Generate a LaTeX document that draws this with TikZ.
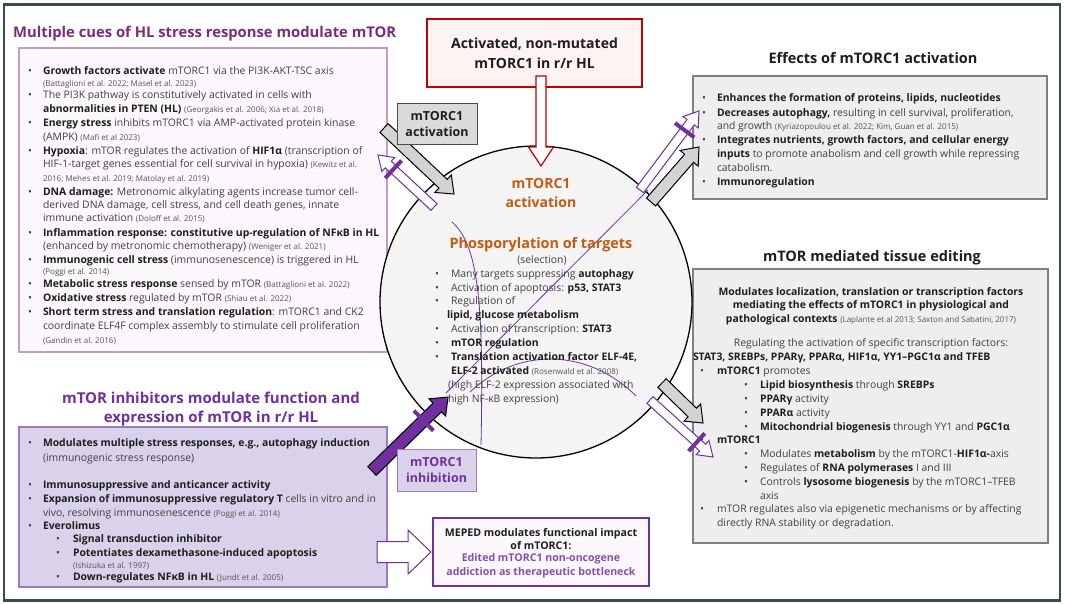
\documentclass[tikz,border=0pt]{standalone}
\usepackage{fontspec}
\setmainfont{Open Sans}
\usetikzlibrary{calc}
\definecolor{framec}{HTML}{3B4A52}
\definecolor{bodyc}{HTML}{404040}
\definecolor{boldc}{HTML}{1E1E1E}
\definecolor{citec}{HTML}{555555}
\definecolor{titlec}{HTML}{7B2C7F}
\definecolor{purp}{HTML}{7030A0}
\definecolor{pinkfill}{HTML}{FCF7FC}
\definecolor{pinkline}{HTML}{C39BC5}
\definecolor{lavfill}{HTML}{DAD1EA}
\definecolor{lavline}{HTML}{9A7DBE}
\definecolor{redc}{HTML}{C00000}
\definecolor{redfill}{HTML}{FDF3F3}
\definecolor{orangec}{HTML}{C55A11}
\definecolor{grayfill}{HTML}{EEEEEE}
\definecolor{grayline}{HTML}{7F7F7F}
\definecolor{circfill}{HTML}{F4F4F4}
\definecolor{arrowgray}{HTML}{D3D3D3}
\newcommand{\bo}[1]{{\bfseries\color{boldc}#1}}
\newcommand{\ct}[1]{{\fontsize{8}{9}\selectfont\color{citec}#1}}
\newcommand{\li}[4]{\node[txt] (#1) at (#2,#3+3.7) {#4};}
\newcommand{\bu}[3]{\node[bul] (#1) at (#2,#3+3.7) {\textbullet};}
\newcommand{\lc}[4]{\node[txtc] (#1) at (#2,#3+3.7) {#4};}
% block arrow: [style]{tail}{tip}{shaft half}{head half}{head length}
\newcommand{\blockarrow}[6][]{%
  \draw[#1] ($(#2)!#4!90:(#3)$) -- ($($(#3)!#6!(#2)$)!#4!-90:(#2)$)
    -- ($($(#3)!#6!(#2)$)!#5!-90:(#2)$) -- (#3)
    -- ($($(#3)!#6!(#2)$)!#5!90:(#2)$) -- ($($(#3)!#6!(#2)$)!#4!90:(#2)$)
    -- ($(#2)!#4!-90:(#3)$) -- cycle;}
% crossbar: {tail}{tip}{distance from tip}{half length}
\newcommand{\crossbar}[4]{%
  \draw[purp, line width=4pt] ($($(#2)!#3!(#1)$)!#4!90:(#1)$) -- ($($(#2)!#3!(#1)$)!#4!-90:(#1)$);}
\tikzset{
  txt/.style={anchor=base west, inner sep=0pt, outer sep=0pt, font=\fontsize{10.4}{12}\selectfont, text=bodyc},
  txtc/.style={anchor=base, inner sep=0pt, outer sep=0pt, font=\fontsize{10.4}{12}\selectfont, text=bodyc},
  bul/.style={anchor=base, inner sep=0pt, outer sep=0pt, font=\fontsize{10.4}{12}\selectfont, text=bodyc},
  boxbase/.style={anchor=north west, inner sep=0pt, outer sep=0pt},
  grayarrow/.style={fill=arrowgray, draw=black, line width=1pt, line join=miter},
  hollowpurp/.style={fill=white, draw=purp, line width=1pt, line join=miter},
  filledpurp/.style={fill=purp, draw=black, line width=1pt, line join=miter},
  hollowred/.style={fill=white, draw=redc, line width=1.2pt, line join=miter},
  thinpurp/.style={draw=purp, line width=0.8pt},
}
\begin{document}
\begin{tikzpicture}[x=1pt,y=-1pt]
\useasboundingbox (0,0) rectangle (1065,603);
\fill[white] (0,0) rectangle (1065,603);
\draw[framec, line width=2.6pt] (4,4.5) rectangle (1060,600.5);

% ---------- titles ----------
\node[anchor=base west, inner sep=0pt, font=\fontsize{14.8}{18}\selectfont\bfseries, text=titlec] (t1) at (13,37.4) {Multiple cues of HL stress response modulate mTOR};
\node[anchor=base, inner sep=0pt, font=\fontsize{15}{18}\selectfont\bfseries, text=purp] (t2a) at (211,403.4) {mTOR inhibitors modulate function and};
\node[anchor=base, inner sep=0pt, font=\fontsize{15}{18}\selectfont\bfseries, text=purp] (t2b) at (211,422.4) {expression of mTOR in r/r HL};
\node[anchor=base, inner sep=0pt, font=\fontsize{14.5}{18}\selectfont\bfseries, text=boldc] (t3) at (873,63.2) {Effects of mTORC1 activation};
\node[anchor=base, inner sep=0pt, font=\fontsize{14.5}{18}\selectfont\bfseries, text=boldc] (t4) at (872,261.2) {mTOR mediated tissue editing};

% ---------- boxes ----------
\node[boxbase, draw=pinkline, fill=pinkfill, line width=1.2pt, minimum width=368pt, minimum height=304pt] (boxA) at (19,48) {};
\node[boxbase, draw=lavline, fill=lavfill, line width=1.2pt, minimum width=368pt, minimum height=160pt] (boxB) at (19,427) {};
\node[boxbase, draw=grayline, fill=grayfill, line width=1.2pt, minimum width=354pt, minimum height=123pt] (boxC) at (693,76) {};
\node[boxbase, draw=grayline, fill=grayfill, line width=1.2pt, minimum width=355pt, minimum height=274pt] (boxD) at (693,269) {};
\node[boxbase, draw=redc, fill=redfill, line width=1.3pt, minimum width=215pt, minimum height=68pt] (boxR) at (427,19) {};
\node[font=\fontsize{14}{20}\selectfont\bfseries, text=boldc, align=center, inner sep=0pt] (redtxt) at (534.5,53) {Activated, non-mutated\\mTORC1 in r/r HL};

% ---------- circle ----------
\node[circle, draw=black, fill=circfill, line width=1.3pt, minimum size=312pt, inner sep=0pt] (circ) at (536,302) {};

% thin purple lines inside circle
\draw[thinpurp] (648,190) -- (446,393);
\draw[thinpurp] (452,222) .. controls (478,245) and (484,300) .. (481,445);
\draw[thinpurp] (470,392) .. controls (520,345) and (590,350) .. (636,396);

% circle texts
\node[anchor=base, inner sep=0pt, font=\fontsize{14}{16}\selectfont\bfseries, text=orangec] (ca1) at (541,188) {mTORC1};
\node[anchor=base, inner sep=0pt, font=\fontsize{14}{16}\selectfont\bfseries, text=orangec] (ca2) at (541,207) {activation};
\node[anchor=base, inner sep=0pt, font=\fontsize{14.4}{16}\selectfont\bfseries, text=orangec] (ph) at (541,248.2) {Phosporylation of targets};
\lc{sel}{542}{260}{(selection)}
\bu{cb1}{437}{274} \li{ct1}{451}{274}{Many targets suppressing \bo{autophagy}}
\bu{cb2}{437}{288} \li{ct2}{451}{288}{Activation of apoptosis: \bo{p53, STAT3}}
\bu{cb3}{437}{301} \li{ct3}{451}{301}{Regulation of}
\li{ct4}{447}{315}{\bo{lipid, glucose metabolism}}
\bu{cb5}{437}{329} \li{ct5}{451}{329}{Activation of transcription: \bo{STAT3}}
\bu{cb6}{437}{343} \li{ct6}{451}{343}{\bo{mTOR regulation}}
\bu{cb7}{437}{357} \li{ct7}{451}{357}{\bo{Translation activation factor ELF-4E,}}
\li{ct8}{451}{371}{\bo{ELF-2 activated} \ct{(Rosenwald et al. 2008)}}
\li{ct9}{448}{385}{(high ELF-2 expression associated with}
\li{ct10}{448}{399}{high NF-κB expression)}

% ---------- upper left box text ----------
\bu{ab1}{30}{71} \li{at1}{43}{71}{\bo{Growth factors activate} mTORC1 via the PI3K-AKT-TSC axis}
\li{at2}{43}{83}{\ct{(Battaglioni et al. 2022; Masel et al. 2023)}}
\bu{ab2}{30}{95} \li{at3}{43}{95}{The PI3K pathway is constitutively activated in cells with}
\li{at4}{43}{109}{\bo{abnormalities in PTEN (HL)} \ct{(Georgakis et al. 2006; Xia et al. 2018)}}
\bu{ab3}{30}{123} \li{at5}{43}{123}{\bo{Energy stress} inhibits mTORC1 via AMP-activated protein kinase}
\li{at6}{43}{137}{(AMPK) \ct{(Mafi et al 2023)}}
\bu{ab4}{30}{151} \li{at7}{43}{151}{\bo{Hypoxia}: mTOR regulates the activation of \bo{HIF1α} (transcription of}
\li{at8}{43}{164}{HIF-1-target genes essential for cell survival in hypoxia) \ct{(Kewitz et al.}}
\li{at9}{43}{178}{\ct{2016; Mehes et al. 2019; Matolay et al. 2019)}}
\bu{ab5}{30}{192} \li{at10}{43}{192}{\bo{DNA damage:} Metronomic alkylating agents increase tumor cell-}
\li{at11}{43}{205}{derived DNA damage, cell stress, and cell death genes, innate}
\li{at12}{43}{218}{immune activation \ct{(Doloff et al. 2015)}}
\bu{ab6}{30}{233} \li{at13}{43}{233}{\bo{Inflammation response: constitutive up-regulation of NFκB in HL}}
\li{at14}{43}{246}{(enhanced by metronomic chemotherapy) \ct{(Weniger et al. 2021)}}
\bu{ab7}{30}{260} \li{at15}{43}{260}{\bo{Immunogenic cell stress} (immunosenescence) is triggered in HL}
\li{at16}{43}{271}{\ct{(Poggi et al. 2014)}}
\bu{ab8}{30}{284} \li{at17}{43}{284}{\bo{Metabolic stress response} sensed by mTOR \ct{(Battaglioni et al. 2022)}}
\bu{ab9}{30}{298} \li{at18}{43}{298}{\bo{Oxidative stress} regulated by mTOR \ct{(Shiau et al. 2022)}}
\bu{ab10}{30}{312} \li{at19}{43}{312}{\bo{Short term stress and translation regulation}: mTORC1 and CK2}
\li{at20}{43}{326}{coordinate ELF4F complex assembly to stimulate cell proliferation}
\li{at21}{43}{340}{\ct{(Gandin et al. 2016)}}

% ---------- lower left box text ----------
\bu{bb1}{30}{443} \li{bt1}{43}{443}{\bo{Modulates multiple stress responses, e.g., autophagy induction}}
\li{bt2}{43}{458}{(immunogenic stress response)}
\bu{bb2}{30}{485} \li{bt3}{43}{485}{\bo{Immunosuppressive and anticancer activity}}
\bu{bb3}{30}{499} \li{bt4}{43}{499}{\bo{Expansion of immunosuppressive regulatory T} cells in vitro and in}
\li{bt5}{43}{513}{vivo, resolving immunosenescence \ct{(Poggi et al. 2014)}}
\bu{bb4}{30}{526} \li{bt6}{43}{526}{\bo{Everolimus}}
\bu{bb5}{58}{539} \li{bt7}{73}{539}{\bo{Signal transduction inhibitor}}
\bu{bb6}{58}{553} \li{bt8}{73}{553}{\bo{Potentiates dexamethasone-induced apoptosis}}
\li{bt9}{73}{565}{\ct{(Ishizuka et al. 1997)}}
\bu{bb7}{58}{577} \li{bt10}{73}{577}{\bo{Down-regulates NFκB in HL} \ct{(Jundt et al. 2005)}}

% ---------- top right box text ----------
\bu{cb1r}{704}{98} \li{rt1}{717}{98}{\bo{Enhances the formation of proteins, lipids, nucleotides}}
\bu{cb2r}{704}{113} \li{rt2}{717}{113}{\bo{Decreases autophagy,} resulting in cell survival, proliferation,}
\li{rt3}{717}{126}{and growth \ct{(Kyriazopoulou et al. 2022; Kim, Guan et al. 2015)}}
\bu{cb3r}{704}{140} \li{rt4}{717}{140}{\bo{Integrates nutrients, growth factors, and cellular energy}}
\li{rt5}{717}{154}{\bo{inputs} to promote anabolism and cell growth while repressing}
\li{rt6}{717}{168}{catabolism.}
\bu{cb4r}{704}{182} \li{rt7}{717}{182}{\bo{Immunoregulation}}

% ---------- bottom right box text ----------
\lc{dt1}{871}{292}{\bo{Modulates localization, translation or transcription factors}}
\lc{dt2}{871}{305}{\bo{mediating the effects of mTORC1 in physiological and}}
\lc{dt3}{871}{319}{\bo{pathological contexts} \ct{(Laplante et al 2013; Saxton and Sabatini, 2017)}}
\lc{dt4}{871}{343}{Regulating the activation of specific transcription factors:}
\li{dt5}{693}{357}{\bo{STAT3, SREBPs, PPARγ, PPARα, HIF1α, YY1–PGC1α and TFEB}}
\bu{db1}{702}{371} \li{dt6}{717}{371}{\bo{mTORC1} promotes}
\bu{db2}{746}{385} \li{dt7}{760}{385}{\bo{Lipid biosynthesis} through \bo{SREBPs}}
\bu{db3}{746}{399} \li{dt8}{760}{399}{\bo{PPARγ} activity}
\bu{db4}{746}{413} \li{dt9}{760}{413}{\bo{PPARα} activity}
\bu{db5}{746}{427} \li{dt10}{760}{427}{\bo{Mitochondrial biogenesis} through YY1 and \bo{PGC1α}}
\bu{db6}{702}{440} \li{dt11}{717}{440}{\bo{mTORC1}}
\bu{db7}{746}{454} \li{dt12}{760}{454}{Modulates \bo{metabolism} by the mTORC1-\bo{HIF1α-}axis}
\bu{db8}{746}{468} \li{dt13}{760}{468}{Regulates of \bo{RNA polymerases} I and III}
\bu{db9}{746}{482} \li{dt14}{760}{482}{Controls \bo{lysosome biogenesis} by the mTORC1–TFEB}
\li{dt15}{760}{496}{axis}
\bu{db10}{702}{509} \li{dt16}{717}{509}{mTOR regulates also via epigenetic mechanisms or by affecting}
\li{dt17}{717}{523}{directly RNA stability or degradation.}

% ---------- arrow end points ----------
\coordinate (rA1) at (541,76);  \coordinate (rA2) at (541,166);
\coordinate (gA1) at (384,128); \coordinate (gA2) at (454,194);
\coordinate (pA1) at (434,207); \coordinate (pA2) at (378,155);
\coordinate (gB1) at (651,202); \coordinate (gB2) at (699,147);
\coordinate (pB1) at (640,190); \coordinate (pB2) at (699,111);
\coordinate (gC1) at (662,383); \coordinate (gC2) at (703,423);
\coordinate (pC1) at (650,400); \coordinate (pC2) at (713,457);
\coordinate (fA1) at (372,471); \coordinate (fA2) at (448,397);
\coordinate (hA1) at (377,552); \coordinate (hA2) at (431,552);

% ---------- arrows ----------
\blockarrow[hollowred]{rA1}{rA2}{5pt}{12.5pt}{19pt}
\blockarrow[grayarrow]{gA1}{gA2}{6pt}{12pt}{15pt}
\blockarrow[hollowpurp]{pA1}{pA2}{4.5pt}{9.5pt}{14pt}
\crossbar{pA1}{pA2}{21pt}{12pt}
\blockarrow[grayarrow]{gB1}{gB2}{6pt}{12pt}{15pt}
\blockarrow[hollowpurp]{pB1}{pB2}{4.5pt}{9.5pt}{14pt}
\crossbar{pB1}{pB2}{24pt}{12pt}
\blockarrow[grayarrow]{gC1}{gC2}{6pt}{12pt}{15pt}
\blockarrow[hollowpurp]{pC1}{pC2}{4.5pt}{9.5pt}{14pt}
\crossbar{pC1}{pC2}{22pt}{12pt}
\blockarrow[filledpurp]{fA1}{fA2}{6pt}{12pt}{15pt}
\crossbar{fA1}{fA2}{34pt}{14pt}
\blockarrow[hollowpurp]{hA1}{hA2}{10.5pt}{22pt}{23pt}

% ---------- labels ----------
\node[boxbase, draw=black!70, fill=arrowgray!85, line width=1pt, minimum width=80pt, minimum height=41pt] (labG) at (397,103) {};
\node[font=\fontsize{12.5}{16}\selectfont\bfseries, text=boldc, align=center, inner sep=0pt] (labGt) at (437,124) {mTORC1\\activation};
\node[boxbase, draw=lavline, fill=lavfill, line width=1pt, minimum width=79pt, minimum height=42pt] (labP) at (397,449) {};
\node[font=\fontsize{12.5}{16}\selectfont\bfseries, text=purp, align=center, inner sep=0pt] (labPt) at (436.5,470) {mTORC1\\inhibition};

% MEPED box
\node[boxbase, draw=purp, fill=pinkfill, line width=1.5pt, minimum width=216pt, minimum height=68pt] (boxM) at (433,518) {};
\node[font=\fontsize{10.6}{13.7}\selectfont\bfseries, text=boldc, align=center, inner sep=0pt] (mt1) at (541,539) {MEPED modulates functional impact\\of mTORC1:};
\node[font=\fontsize{10.6}{13.7}\selectfont\bfseries, text=purp!85, align=center, inner sep=0pt] (mt2) at (541,566) {Edited mTORC1 non-oncogene\\addiction as therapeutic bottleneck};
\end{tikzpicture}
\end{document}
